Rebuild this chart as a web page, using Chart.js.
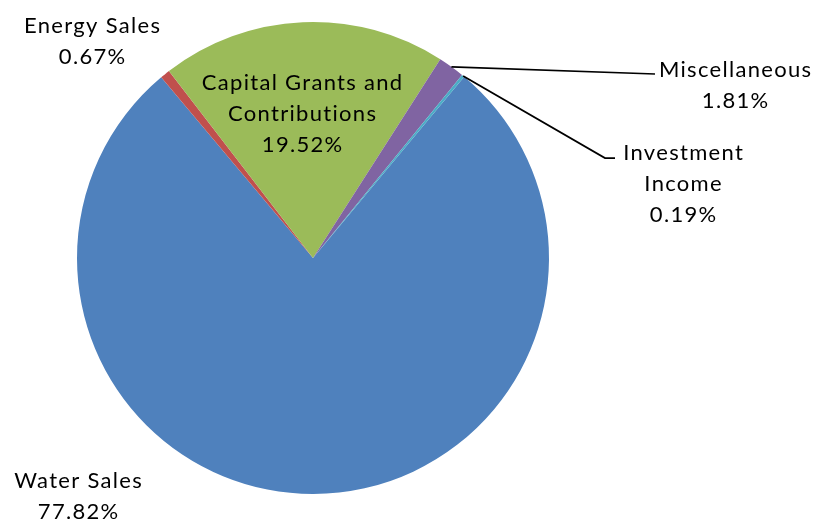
<!DOCTYPE html>
<html>
<head>
<meta charset="utf-8">
<script src="https://cdn.jsdelivr.net/npm/chart.js@4"></script>
<style>
  html, body { margin: 0; padding: 0; background: #ffffff; }
  #wrap { width: 817px; height: 525px; position: relative; }
</style>
</head>
<body>
<div id="wrap"><canvas id="c" width="817" height="525"></canvas></div>
<script>
// ---- data ----
const categories = ["Water Sales", "Energy Sales", "Capital Grants and Contributions", "Miscellaneous", "Investment Income"];
const percentValues = [77.82, 0.67, 19.52, 1.81, 0.19];
const sliceColors = ["#4F81BD", "#C0504D", "#9BBB59", "#8064A2", "#4BACC6"];
// label text lines (category split as in the picture)
const labelLines = [
  ["Water Sales"],
  ["Energy Sales"],
  ["Capital Grants and", "Contributions"],
  ["Miscellaneous"],
  ["Investment", "Income"]
];

// label placement (style/layout config, not data)
const labelLayout = [
  { x: 78,  y: 488, leader: null },
  { x: 92,  y: 33,  leader: null },
  { x: 302, y: 90,  leader: null },
  { x: 735, y: 77,  leader: [[655, 74]] },
  { x: 683, y: 160, leader: [[605, 158], [615, 158]] }
];
const LINE_H = 31;
const FONT = '22px Lato';
const SPACING = 1.3;

const labelPlugin = {
  id: 'pieLabels',
  afterDatasetsDraw(chart) {
    const ctx = chart.ctx;
    const meta = chart.getDatasetMeta(0);
    ctx.save();
    // leader lines
    ctx.strokeStyle = '#000000';
    ctx.lineWidth = 1.75;
    meta.data.forEach((arc, i) => {
      const lay = labelLayout[i];
      if (!lay.leader) return;
      const p = arc.getProps(['x', 'y', 'startAngle', 'endAngle', 'outerRadius'], true);
      const mid = (p.startAngle + p.endAngle) / 2;
      const sx = p.x + Math.cos(mid) * p.outerRadius;
      const sy = p.y + Math.sin(mid) * p.outerRadius;
      ctx.beginPath();
      ctx.moveTo(sx, sy);
      lay.leader.forEach(pt => ctx.lineTo(pt[0], pt[1]));
      ctx.stroke();
    });
    // texts
    ctx.fillStyle = '#000000';
    ctx.font = FONT;
    let shift = 0;
    if ('letterSpacing' in ctx) { ctx.letterSpacing = SPACING + 'px'; shift = SPACING / 2; }
    ctx.textAlign = 'center';
    ctx.textBaseline = 'alphabetic';
    meta.data.forEach((arc, i) => {
      const lay = labelLayout[i];
      const lines = labelLines[i].concat([percentValues[i].toFixed(2) + '%']);
      lines.forEach((t, k) => ctx.fillText(t, lay.x + shift, lay.y + k * LINE_H));
    });
    ctx.restore();
  }
};

new Chart(document.getElementById('c'), {
  type: 'pie',
  data: {
    labels: categories,
    datasets: [{
      data: percentValues,
      backgroundColor: sliceColors,
      borderWidth: 0
    }]
  },
  options: {
    responsive: false,
    animation: false,
    rotation: 39.84,
    layout: { padding: { left: 77, right: 268, top: 22, bottom: 31 } },
    plugins: {
      legend: { display: false },
      tooltip: { enabled: false },
      title: { display: false }
    }
  },
  plugins: [labelPlugin]
});
</script>
</body>
</html>
